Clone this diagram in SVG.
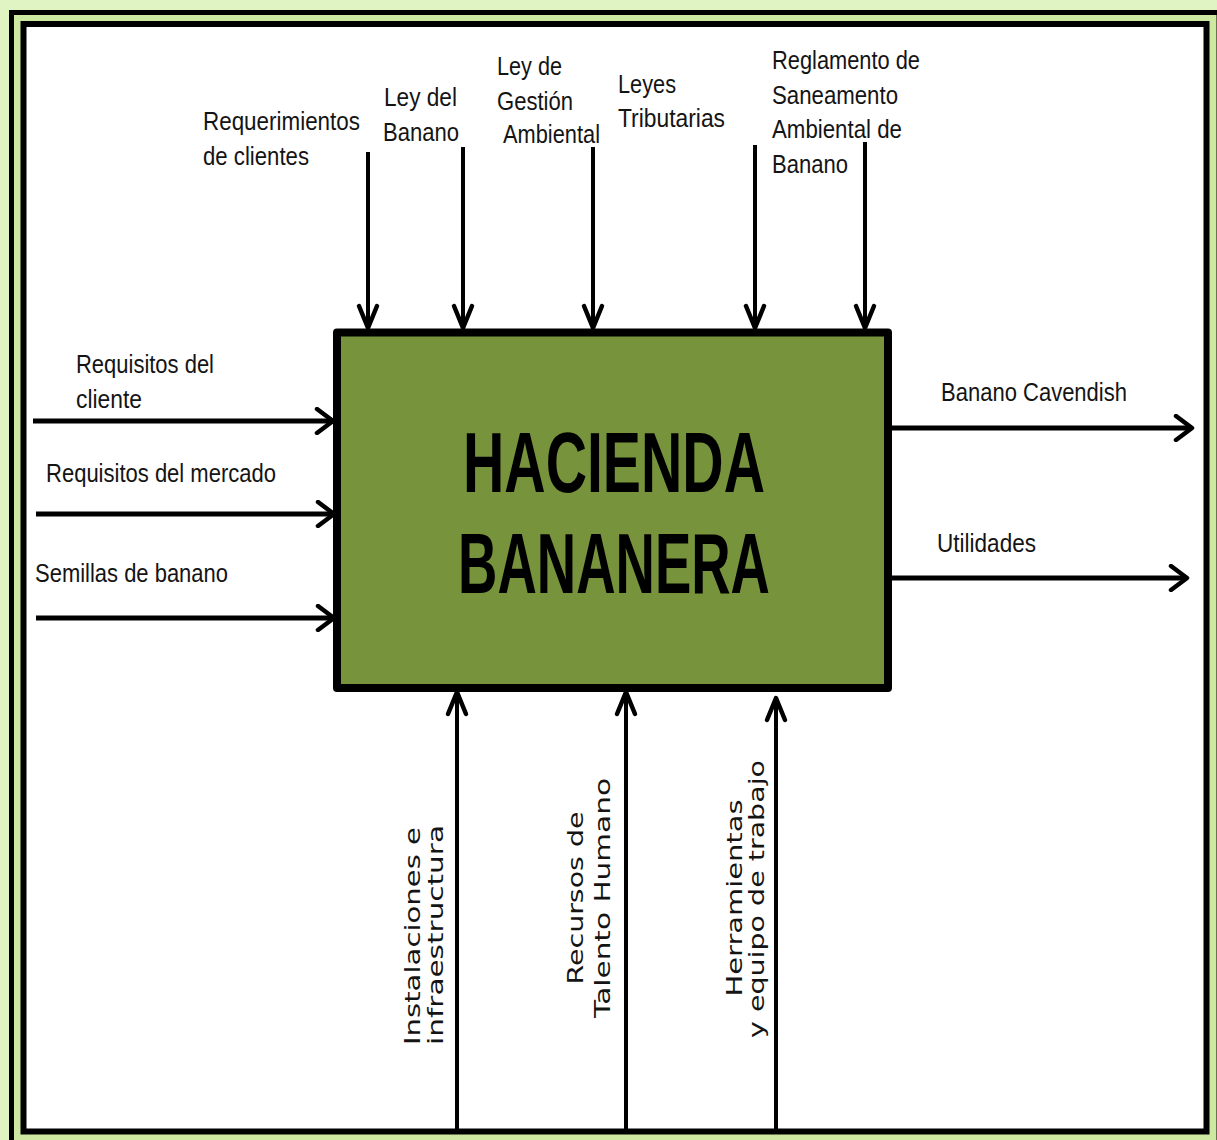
<svg xmlns="http://www.w3.org/2000/svg" width="1217" height="1140" viewBox="0 0 1217 1140">
<style>
.lbl{font-family:"Liberation Sans",Arial,sans-serif;font-size:25px;fill:#141414}
.rot{font-family:"DejaVu Sans",Verdana,sans-serif;font-size:22px;fill:#141414}
.title{font-family:"Liberation Sans",Arial,sans-serif;font-size:86px;font-weight:bold;fill:#000}
.h{stroke:#000;stroke-width:5;fill:none;marker-end:url(#hh)}
.v{stroke:#000;stroke-width:4;fill:none;marker-end:url(#vh)}
</style>
<defs>
<marker id="hh" markerUnits="userSpaceOnUse" viewBox="0 0 22 28" markerWidth="22" markerHeight="28" refX="19" refY="14" orient="auto">
<path d="M3,2 L19,14 L3,26" fill="none" stroke="#000" stroke-width="4.5" stroke-linecap="round" stroke-linejoin="round"/>
</marker>
<marker id="vh" markerUnits="userSpaceOnUse" viewBox="0 0 28 24" markerWidth="28" markerHeight="24" refX="25" refY="12" orient="auto">
<path d="M3,3 L25,12 L3,21" fill="none" stroke="#000" stroke-width="4.5" stroke-linecap="round" stroke-linejoin="round"/>
</marker>
</defs>
<g id="frame">
<rect x="0" y="0" width="1217" height="1140" fill="#e0f3c2"/>
<rect x="11.5" y="12.5" width="1207.5" height="1131" fill="#cde8a0" stroke="#000" stroke-width="5"/>
<rect x="23.5" y="24" width="1183" height="1107.5" fill="#fff" stroke="#000" stroke-width="6"/>
</g>
<g id="hacienda">
<rect x="337" y="332.5" width="551" height="355.5" fill="#77933c" stroke="#000" stroke-width="8" stroke-linejoin="round"/>
<text class="title" x="463" y="492" textLength="302" lengthAdjust="spacingAndGlyphs">HACIENDA</text>
<text class="title" x="458" y="593" textLength="312" lengthAdjust="spacingAndGlyphs">BANANERA</text>
</g>
<g id="connectors">
<line class="v" x1="368" y1="152" x2="368" y2="328"/>
<line class="v" x1="463" y1="147" x2="463" y2="328"/>
<line class="v" x1="593" y1="147" x2="593" y2="328"/>
<line class="v" x1="755" y1="145" x2="755" y2="328"/>
<line class="v" x1="865" y1="142" x2="865" y2="328"/>
<line class="h" x1="33" y1="421" x2="333" y2="421"/>
<line class="h" x1="36" y1="514" x2="334" y2="514"/>
<line class="h" x1="36" y1="618" x2="334" y2="618"/>
<line class="h" x1="892" y1="428" x2="1192" y2="428"/>
<line class="h" x1="892" y1="578" x2="1187" y2="578"/>
<line class="v" x1="457" y1="1130" x2="457" y2="692"/>
<line class="v" x1="626" y1="1130" x2="626" y2="692"/>
<line class="v" x1="776" y1="1130" x2="776" y2="698"/>
</g>
<g id="requerimientos">
<text class="lbl" x="203" y="130" textLength="157" lengthAdjust="spacingAndGlyphs">Requerimientos</text>
<text class="lbl" x="203" y="165" textLength="106" lengthAdjust="spacingAndGlyphs">de clientes</text>
</g>
<g id="ley-banano">
<text class="lbl" x="384" y="106" textLength="73" lengthAdjust="spacingAndGlyphs">Ley del</text>
<text class="lbl" x="383" y="141" textLength="76" lengthAdjust="spacingAndGlyphs">Banano</text>
</g>
<g id="ley-gestion">
<text class="lbl" x="497" y="75" textLength="65" lengthAdjust="spacingAndGlyphs">Ley de</text>
<text class="lbl" x="497" y="110" textLength="76" lengthAdjust="spacingAndGlyphs">Gestión</text>
<text class="lbl" x="503" y="143" textLength="97" lengthAdjust="spacingAndGlyphs">Ambiental</text>
</g>
<g id="leyes-tributarias">
<text class="lbl" x="618" y="93" textLength="58" lengthAdjust="spacingAndGlyphs">Leyes</text>
<text class="lbl" x="618" y="127" textLength="107" lengthAdjust="spacingAndGlyphs">Tributarias</text>
</g>
<g id="reglamento">
<text class="lbl" x="772" y="69" textLength="148" lengthAdjust="spacingAndGlyphs">Reglamento de</text>
<text class="lbl" x="772" y="104" textLength="126" lengthAdjust="spacingAndGlyphs">Saneamento</text>
<text class="lbl" x="772" y="138" textLength="130" lengthAdjust="spacingAndGlyphs">Ambiental de</text>
<text class="lbl" x="772" y="173" textLength="76" lengthAdjust="spacingAndGlyphs">Banano</text>
</g>
<g id="requisitos-cliente">
<text class="lbl" x="76" y="373" textLength="138" lengthAdjust="spacingAndGlyphs">Requisitos del</text>
<text class="lbl" x="76" y="408" textLength="66" lengthAdjust="spacingAndGlyphs">cliente</text>
</g>
<g id="requisitos-mercado">
<text class="lbl" x="46" y="482" textLength="230" lengthAdjust="spacingAndGlyphs">Requisitos del mercado</text>
</g>
<g id="semillas">
<text class="lbl" x="35" y="582" textLength="193" lengthAdjust="spacingAndGlyphs">Semillas de banano</text>
</g>
<g id="banano-cavendish">
<text class="lbl" x="941" y="401" textLength="186" lengthAdjust="spacingAndGlyphs">Banano Cavendish</text>
</g>
<g id="utilidades">
<text class="lbl" x="937" y="552" textLength="99" lengthAdjust="spacingAndGlyphs">Utilidades</text>
</g>
<g id="instalaciones">
<text class="rot" transform="translate(420,1045) rotate(-90)" textLength="218" lengthAdjust="spacingAndGlyphs">Instalaciones e</text>
<text class="rot" transform="translate(443,1045) rotate(-90)" textLength="220" lengthAdjust="spacingAndGlyphs">infraestructura</text>
</g>
<g id="recursos">
<text class="rot" transform="translate(583,898) rotate(-90)" text-anchor="middle" textLength="173" lengthAdjust="spacingAndGlyphs">Recursos de</text>
<text class="rot" transform="translate(610,898) rotate(-90)" text-anchor="middle" textLength="240" lengthAdjust="spacingAndGlyphs">Talento Humano</text>
</g>
<g id="herramientas">
<text class="rot" transform="translate(742,898) rotate(-90)" text-anchor="middle" textLength="197" lengthAdjust="spacingAndGlyphs">Herramientas</text>
<text class="rot" transform="translate(764,899) rotate(-90)" text-anchor="middle" textLength="278" lengthAdjust="spacingAndGlyphs">y equipo de trabajo</text>
</g>
</svg>
